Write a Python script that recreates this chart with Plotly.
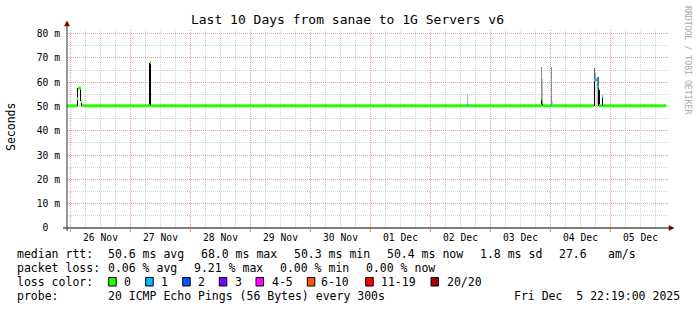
import plotly.graph_objects as go

# ---------------- data ----------------
title_text = "Last 10 Days from sanae to 1G Servers v6"
y_title = "Seconds"
watermark = "RRDTOOL / TOBI OETIKER"

day_labels = ["26 Nov", "27 Nov", "28 Nov", "29 Nov", "30 Nov",
              "01 Dec", "02 Dec", "03 Dec", "04 Dec", "05 Dec"]
day_noons = ["2025-11-26 12:00", "2025-11-27 12:00", "2025-11-28 12:00", "2025-11-29 12:00",
             "2025-11-30 12:00", "2025-12-01 12:00", "2025-12-02 12:00", "2025-12-03 12:00",
             "2025-12-04 12:00", "2025-12-05 12:00"]
midnights = ["2025-11-26", "2025-11-27", "2025-11-28", "2025-11-29", "2025-11-30",
             "2025-12-01", "2025-12-02", "2025-12-03", "2025-12-04", "2025-12-05"]
y_ticks = [0, 10, 20, 30, 40, 50, 60, 70, 80]
y_ticktext = ["0\u00a0\u00a0", "10 m", "20 m", "30 m", "40 m", "50 m", "60 m", "70 m", "80 m"]

data_start = "2025-11-25 22:19"
data_end = "2025-12-05 22:19"

# median rtt samples (ms), step-wise; loss bucket index per sample
median_t = ["2025-11-25 22:19", "2025-11-26 02:36", "2025-11-26 03:00", "2025-11-26 04:12",
            "2025-11-26 04:36", "2025-11-27 07:48", "2025-11-27 08:12", "2025-12-02 14:36",
            "2025-12-02 15:00", "2025-12-03 20:36", "2025-12-03 21:00", "2025-12-04 00:12",
            "2025-12-04 00:36", "2025-12-04 17:24", "2025-12-04 18:36", "2025-12-04 19:24",
            "2025-12-04 20:36", "2025-12-04 21:00"]
median_v = [50.3, 53.2, 57.6, 52.1, 50.3, 68.0, 50.3, 50.4, 50.3, 51.8, 50.3, 50.5,
            50.3, 61.0, 58.2, 50.3, 54.0, 50.3]
median_loss = [0, 0, 0, 0, 0, 0, 0, 1, 0, 0, 0, 1, 0, 1, 1, 0, 1, 0]

# smoke (spread of pings), outer layer
smoke_t = ["2025-11-26 02:36", "2025-11-26 03:48", "2025-11-26 04:12", "2025-11-27 07:24",
           "2025-11-27 07:48", "2025-12-02 14:36", "2025-12-03 20:12", "2025-12-03 20:36",
           "2025-12-04 00:12", "2025-12-04 00:36", "2025-12-04 17:24", "2025-12-04 17:48",
           "2025-12-04 18:12", "2025-12-04 18:36", "2025-12-04 19:00", "2025-12-04 19:24",
           "2025-12-04 20:36"]
smoke_lo = [50.3, 52.1, 50.3, 50.3, 50.3, 50.3, 50.3, 50.3, 50.3, 50.3, 50.3, 50.3,
            50.3, 50.3, 50.3, 50.3, 50.3]
smoke_hi = [57.6, 57.6, 52.1, 67.8, 67.8, 54.8, 66.3, 61.4, 66.4, 52.4, 65.8, 64.0,
            60.0, 62.3, 62.3, 57.0, 54.0]
smoke_shade = ["#000000", "#000000", "#000000", "#000000", "#000000", "#b0b0b0", "#909090",
               "#b8b8b8", "#909090", "#c8c8c8", "#606060", "#a0a0a0", "#e0e0e0", "#808080",
               "#606060", "#101010", "#000000"]
# smoke, dense inner layer
core_t = ["2025-12-03 20:12", "2025-12-03 20:36", "2025-12-04 17:24", "2025-12-04 17:48",
          "2025-12-04 18:36", "2025-12-04 19:00"]
core_lo = [50.3, 50.3, 50.3, 50.3, 50.3, 50.3]
core_hi = [52.5, 52.0, 61.0, 60.5, 58.2, 58.2]
core_shade = ["#000000", "#202020", "#000000", "#e8e8e8", "#c0c0c0", "#000000"]

loss_labels = ["0", "1", "2", "3", "4-5", "6-10", "11-19", "20/20"]
loss_colors = ["#26ff00", "#00b8ff", "#0059ff", "#7e00ff", "#ff00ff", "#ff5500", "#ff0000", "#a10000"]

rtt_row = ["median rtt:", "50.6 ms avg", "68.0 ms max", "50.3 ms min", "50.4 ms now",
           "1.8 ms sd", "27.6", "am/s"]
loss_row = ["packet loss:", "0.06 % avg", "9.21 % max", "0.00 % min", "0.00 % now"]
color_row_label = "loss color:"
probe_row = ["probe:", "20 ICMP Echo Pings (56 Bytes) every 300s", "Fri Dec\u00a0\u00a05 22:19:00 2025"]

# ---------------- layout geometry (pixels) ----------------
W, H = 697, 310
L, R, T, B = 67, 669, 30, 228
PW, PH = R - L, B - T
SAMPLE_MS = 24 * 60 * 1000
MONO = "DejaVu Sans Mono"
X_RANGE = ["2025-11-25 22:36", "2025-12-05 23:24"]


def px(x):
    return (x - L) / PW


def py(y):
    return (B - y) / PH


fig = go.Figure()

# smoke layers
fig.add_trace(go.Bar(x=smoke_t, y=[h - l for h, l in zip(smoke_hi, smoke_lo)], base=smoke_lo,
                     width=SAMPLE_MS, offset=0, marker=dict(color=smoke_shade, line=dict(width=0)),
                     showlegend=False, hoverinfo="skip"))
fig.add_trace(go.Bar(x=core_t, y=[h - l for h, l in zip(core_hi, core_lo)], base=core_lo,
                     width=SAMPLE_MS, offset=0, marker=dict(color=core_shade, line=dict(width=0)),
                     showlegend=False, hoverinfo="skip"))

# median line as loss-coloured step segments
ends = median_t[1:] + [data_end]
for li, col in enumerate(loss_colors):
    xs, ys = [], []
    for t0, t1, v, ls in zip(median_t, ends, median_v, median_loss):
        if ls == li:
            xs += [t0, t1, None]
            ys += [v, v, None]
    if xs:
        fig.add_trace(go.Scatter(x=xs, y=ys, mode="lines", line=dict(color=col, width=3),
                                 showlegend=False, hoverinfo="skip"))

# empty trace so the day-label axis is drawn
fig.add_trace(go.Scatter(x=[data_start, data_end], y=[None, None], xaxis="x2", mode="lines",
                         showlegend=False, hoverinfo="skip"))

major_grid = "rgba(240,120,120,0.55)"
minor_grid = "rgba(170,170,170,0.55)"

fig.update_layout(
    width=W, height=H,
    margin=dict(l=L, r=W - R, t=T, b=H - B, pad=0),
    paper_bgcolor="white", plot_bgcolor="white",
    barmode="overlay", bargap=0,
    showlegend=False,
    title=dict(text=title_text, x=347.5 / W, xref="container", xanchor="center",
               y=1 - 19 / H, yref="container", yanchor="middle",
               font=dict(family=MONO, size=13, color="#000000")),
    xaxis=dict(type="date", range=X_RANGE,
               tickmode="array", tickvals=midnights, showticklabels=False,
               ticks="outside", ticklen=3, tickcolor="#ff8080", tickwidth=1,
               showgrid=True, gridcolor=major_grid, griddash="1px,1px", gridwidth=1,
               minor=dict(dtick=6 * 3600 * 1000, tick0="2025-11-26", showgrid=True,
                          gridcolor=minor_grid, griddash="1px,1px", gridwidth=1, ticks=""),
               showline=False, zeroline=False, fixedrange=True),
    xaxis2=dict(type="date", overlaying="x", anchor="y", side="bottom",
                range=X_RANGE,
                tickmode="array", tickvals=day_noons, ticktext=day_labels,
                showgrid=False, ticks="", zeroline=False, showline=False,
                ticklabelstandoff=2,
                tickfont=dict(family=MONO, size=9.7, color="#000000")),
    yaxis=dict(range=[0, PH / 2.429], tickmode="array", tickvals=y_ticks, ticktext=y_ticktext,
               tickfont=dict(family=MONO, size=9.7, color="#000000"), ticks="",
               ticklabelstandoff=6,
               showgrid=True, gridcolor=major_grid, griddash="1px,1px", gridwidth=1,
               minor=dict(dtick=5, showgrid=True, gridcolor=minor_grid, griddash="1px,1px",
                          gridwidth=1, ticks=""),
               showline=False, zeroline=False),
)

shapes = []
# axes
shapes.append(dict(type="line", xref="paper", yref="paper", x0=px(63), x1=px(670), y0=0, y1=0,
                   line=dict(color="#000000", width=1)))
shapes.append(dict(type="line", xref="paper", yref="paper", x0=0, x1=0, y0=py(231), y1=py(25),
                   line=dict(color="#303030", width=1)))
arrow = "#7f0000"
shapes.append(dict(type="path", xref="paper", yref="paper",
                   path=f"M {px(669)} {py(225.5)} L {px(674)} {py(228)} L {px(669)} {py(230.5)} Z",
                   fillcolor=arrow, line=dict(color=arrow, width=0.5)))
shapes.append(dict(type="path", xref="paper", yref="paper",
                   path=f"M {px(64.5)} {py(26)} L {px(67)} {py(21)} L {px(69.5)} {py(26)} Z",
                   fillcolor=arrow, line=dict(color=arrow, width=0.5)))

annotations = []


def text(x, y, s, size=11.5, color="#000000", anchor="left", angle=0):
    annotations.append(dict(x=px(x), y=py(y), xref="paper", yref="paper", text=s, showarrow=False,
                            xanchor=anchor, yanchor="middle", textangle=angle, borderpad=0,
                            font=dict(family=MONO, size=size, color=color)))


# y title and watermark
text(11, 127, y_title, angle=-90, anchor="center")
text(688, 60, watermark, size=8.2, color="#a8a8a8", anchor="center", angle=90)

# legend rows
rtt_x = [16, 106.7, 200, 293.3, 386, 479.3, 558.3, 607.3]
for x, s in zip(rtt_x, rtt_row):
    text(x, 254.3, s)
loss_x = [16, 107.3, 193.3, 279, 365]
for x, s in zip(loss_x, loss_row):
    text(x, 268.3, s)
text(16, 282.3, color_row_label)
box_x = [108.7, 145.7, 182.7, 219.3, 256, 307.3, 365.7, 431]
lab_x = [123.3, 160, 197, 234, 271, 320, 380, 445.7]
for bx, lx, lab, col in zip(box_x, lab_x, loss_labels, loss_colors):
    shapes.append(dict(type="rect", xref="paper", yref="paper", x0=px(bx), x1=px(bx + 7.5),
                       y0=py(277.5), y1=py(286), fillcolor=col, line=dict(color="#000000", width=1)))
    text(lx, 282.3, lab)
probe_x = [16, 107.3, 513.3]
for x, s in zip(probe_x, probe_row):
    text(x, 296, s)

fig.update_layout(shapes=shapes, annotations=annotations)
fig.write_html("out.html")
